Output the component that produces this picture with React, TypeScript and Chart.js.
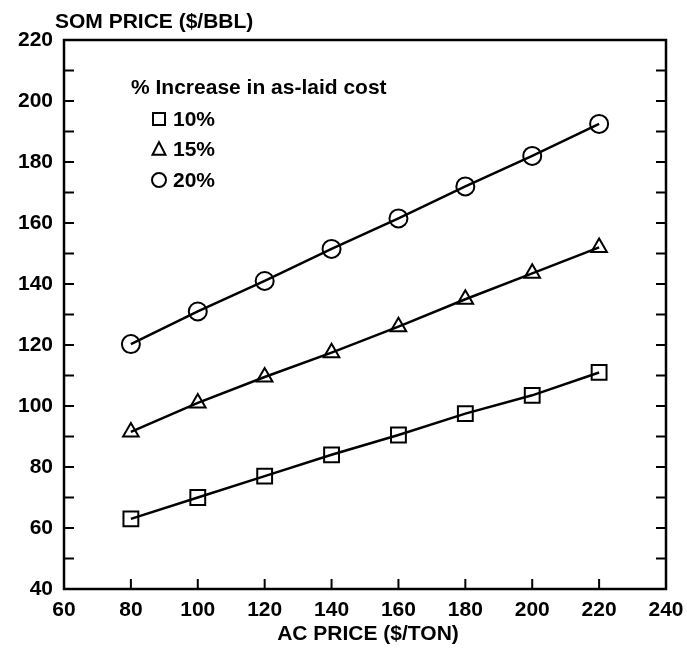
import React, { useEffect, useRef } from "react";
import { Chart, registerables } from "chart.js";

Chart.register(...registerables);

const acPrice = [80, 100, 120, 140, 160, 180, 200, 220];
const som10 = [63, 70, 77, 84, 90.5, 97.5, 103.5, 111];
const som15 = [91.5, 101, 109.5, 117.5, 126, 135, 143.5, 152];
const som20 = [120.3, 131, 141, 151.5, 161.5, 172, 182, 192.5];
const seriesLabels = ["10%", "15%", "20%"];
const legendTitle = "% Increase in as-laid cost";
const yTitle = "SOM PRICE ($/BBL)";
const xTitle = "AC PRICE ($/TON)";

const FONT = "Liberation Sans, Arial, sans-serif";
const WEIGHT = "bold";
const SIZE = 21;

function marker(ctx: CanvasRenderingContext2D, style: string, x: number, y: number, s: number) {
  ctx.beginPath();
  if (style === "rect") {
    ctx.rect(x - s / 2, y - s / 2, s, s);
  } else if (style === "triangle") {
    const h = s * 0.9;
    ctx.moveTo(x, y - h / 2 - 1);
    ctx.lineTo(x + s / 2, y + h / 2);
    ctx.lineTo(x - s / 2, y + h / 2);
    ctx.closePath();
  } else {
    ctx.arc(x, y, s / 2, 0, Math.PI * 2);
  }
  ctx.stroke();
}

const framePlugin = {
  id: "frame",
  afterDraw(chart: any) {
    const { ctx, chartArea: a, scales } = chart;
    const xs = scales.x;
    const ys = scales.y;
    ctx.save();
    ctx.strokeStyle = "#000";
    ctx.lineWidth = 2.5;
    ctx.strokeRect(a.left, a.top, a.right - a.left, a.bottom - a.top);
    ctx.lineWidth = 2;
    for (let v = 50; v < 220; v += 10) {
      const py = ys.getPixelForValue(v);
      ctx.beginPath();
      ctx.moveTo(a.left, py);
      ctx.lineTo(a.left + 10, py);
      ctx.moveTo(a.right, py);
      ctx.lineTo(a.right - 10, py);
      ctx.stroke();
    }
    for (let v = 80; v < 240; v += 20) {
      const px = xs.getPixelForValue(v);
      ctx.beginPath();
      ctx.moveTo(px, a.bottom);
      ctx.lineTo(px, a.bottom - 10);
      ctx.stroke();
    }
    ctx.fillStyle = "#000";
    ctx.font = `${WEIGHT} ${SIZE}px ${FONT}`;
    ctx.textBaseline = "middle";
    ctx.textAlign = "left";
    ctx.fillText(yTitle, 55, 22);
    ctx.textAlign = "center";
    ctx.fillText(xTitle, (a.left + a.right) / 2 + 3, 634);
    ctx.textAlign = "left";
    ctx.fillText(legendTitle, 131, 88);
    const styles = ["rect", "triangle", "circle"];
    const sizes = [12, 13, 14];
    const ly = [119, 149, 180];
    for (let i = 0; i < 3; i++) {
      ctx.lineWidth = 2;
      marker(ctx, styles[i], 159, ly[i], sizes[i]);
      ctx.fillText(seriesLabels[i], 173, ly[i] + 1);
    }
    ctx.restore();
  },
};

export default function App() {
  const ref = useRef<HTMLCanvasElement>(null);
  useEffect(() => {
    if (!ref.current) return;
    const mk = (label: string, data: number[], style: string, r: number) => ({
      label,
      data: acPrice.map((x, i) => ({ x, y: data[i] })),
      borderColor: "#000",
      borderWidth: 2.5,
      pointStyle: style,
      pointRadius: r,
      pointBorderWidth: 2,
      pointBorderColor: "#000",
      pointBackgroundColor: "rgba(0,0,0,0)",
      backgroundColor: "rgba(0,0,0,0)",
      tension: 0,
    });
    const tickFont = { family: FONT, size: SIZE, weight: WEIGHT };
    const chart = new Chart(ref.current, {
      type: "line",
      data: {
        datasets: [
          mk(seriesLabels[0], som10, "rect", 10.5),
          mk(seriesLabels[1], som15, "triangle", 9),
          mk(seriesLabels[2], som20, "circle", 9),
        ] as any,
      },
      options: {
        animation: false,
        responsive: false,
        devicePixelRatio: 1,
        layout: { padding: { top: 40, right: 21, left: 0, bottom: 0 } },
        plugins: { legend: { display: false }, tooltip: { enabled: false } },
        scales: {
          x: {
            type: "linear",
            min: 60,
            max: 240,
            ticks: { stepSize: 20, color: "#000", font: tickFont, padding: 9, maxRotation: 0 },
            grid: { display: false, drawTicks: false },
            border: { display: false },
            afterFit(s: any) { s.height = 60; s.paddingLeft = 0; s.paddingRight = 0; },
          },
          y: {
            type: "linear",
            min: 40,
            max: 220,
            ticks: { stepSize: 20, color: "#000", font: tickFont, padding: 11 },
            grid: { display: false, drawTicks: false },
            border: { display: false },
            afterFit(s: any) { s.width = 64; s.paddingTop = 0; s.paddingBottom = 0; },
          },
        },
      },
      plugins: [framePlugin],
    } as any);
    return () => chart.destroy();
  }, []);
  return (
    <div style={{ position: "fixed", left: 0, top: 0, width: 687, height: 649, background: "#fff" }}>
      <canvas ref={ref} width={687} height={649} style={{ display: "block" }} />
    </div>
  );
}
